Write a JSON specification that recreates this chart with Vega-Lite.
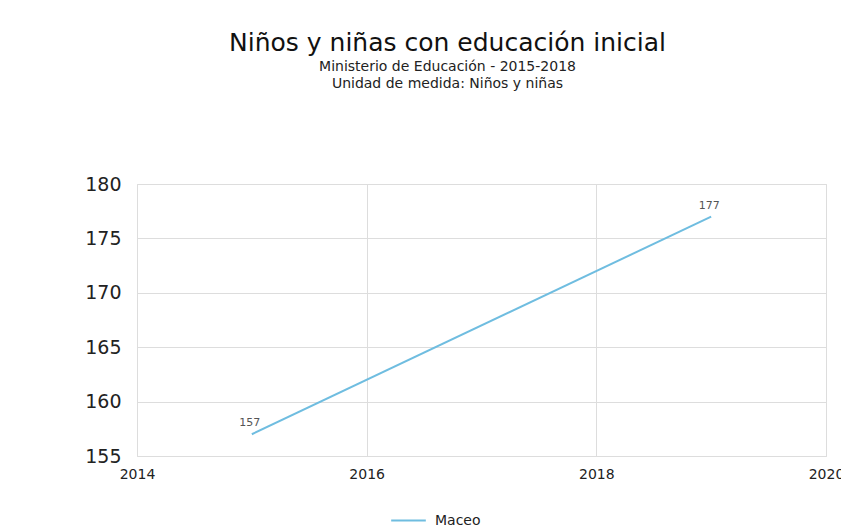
{
  "$schema": "https://vega.github.io/schema/vega-lite/v6.json",
  "autosize": "none",
  "width": 689,
  "height": 272,
  "padding": {"left": 137, "top": 184, "right": 15, "bottom": 73},
  "background": "white",
  "config": {
    "font": "DejaVu Sans",
    "view": {"stroke": "#dddddd", "strokeWidth": 1}
  },
  "title": {
    "text": "Niños y niñas con educación inicial",
    "subtitle": ["Ministerio de Educación - 2015-2018", "Unidad de medida: Niños y niñas"],
    "frame": "group",
    "anchor": "middle",
    "dx": -34,
    "offset": 84,
    "fontSize": 25,
    "fontWeight": "normal",
    "color": "#111111",
    "subtitleFontSize": 14,
    "subtitleColor": "#222222",
    "subtitlePadding": 4,
    "subtitleLineHeight": 17
  },
  "data": {
    "values": [
      {"year": 2015, "value": 157, "serie": "Maceo"},
      {"year": 2019, "value": 177, "serie": "Maceo"}
    ]
  },
  "encoding": {
    "x": {
      "field": "year",
      "type": "quantitative",
      "scale": {"domain": [2014, 2020], "nice": false, "zero": false},
      "axis": {
        "title": null,
        "values": [2014, 2016, 2018, 2020],
        "format": "d",
        "domain": false,
        "ticks": false,
        "labelFontSize": 14,
        "labelColor": "#222222",
        "labelPadding": 11,
        "gridColor": "#dddddd",
        "labelFlush": false
      }
    },
    "y": {
      "field": "value",
      "type": "quantitative",
      "scale": {"domain": [155, 180], "nice": false, "zero": false},
      "axis": {
        "title": null,
        "values": [155, 160, 165, 170, 175, 180],
        "domain": false,
        "ticks": false,
        "labelFontSize": 19,
        "labelColor": "#222222",
        "labelPadding": 16,
        "gridColor": "#dddddd"
      }
    }
  },
  "layer": [
    {
      "mark": {"type": "line", "strokeWidth": 2},
      "encoding": {
        "color": {
          "field": "serie",
          "type": "nominal",
          "scale": {"range": ["#6fbde0"]},
          "legend": {
            "title": null,
            "orient": "none",
            "legendX": 253,
            "legendY": 318,
            "symbolType": "stroke",
            "symbolSize": 1200,
            "symbolStrokeWidth": 2,
            "labelFontSize": 14,
            "labelColor": "#222222",
            "labelOffset": 8
          }
        }
      }
    },
    {
      "mark": {"type": "text", "dy": -11, "dx": -2, "fontSize": 11, "color": "#555555"},
      "encoding": {"text": {"field": "value", "type": "quantitative"}}
    }
  ]
}
